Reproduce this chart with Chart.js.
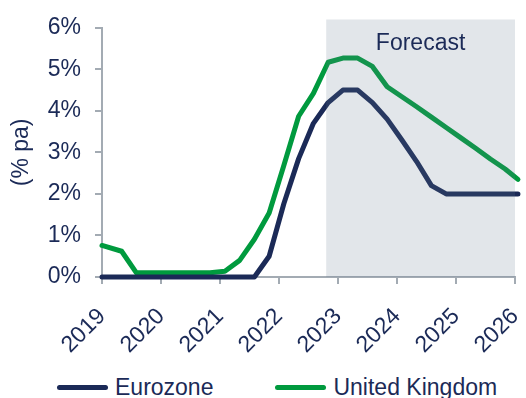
<!DOCTYPE html>
<html>
<head>
<meta charset="utf-8">
<script src="https://cdn.jsdelivr.net/npm/chart.js@4"></script>
<style>
  html, body { margin: 0; padding: 0; background: #fff; overflow: hidden; }
  #wrap { position: relative; width: 526px; height: 398px; }
  #chartBox { position: absolute; left: 0; top: 0; width: 526px; height: 360px; }
  #legend {
    position: absolute; left: 57px; top: 374px; height: 26px;
    display: flex; align-items: center; gap: 62px;
    font: 23px "Liberation Sans", Arial, sans-serif; line-height: 26px; color: #1B2A57;
  }
  #legend .item { display: flex; align-items: center; }
  #legend .swatch { width: 51px; height: 5px; border-radius: 2.5px; margin-right: 7px; }
</style>
</head>
<body>
<div id="wrap">
  <div id="chartBox"><canvas id="rateChart"></canvas></div>
  <div id="legend"></div>
</div>
<script>
// decimal years of each observation / forecast point
const dates = [2019.0, 2019.333, 2019.583, 2019.833,
  2020.083, 2020.333, 2020.583, 2020.833,
  2021.083, 2021.333, 2021.583, 2021.833,
  2022.083, 2022.333, 2022.583, 2022.833,
  2023.083, 2023.333, 2023.583, 2023.833,
  2024.083, 2024.333, 2024.583, 2024.833,
  2025.083, 2025.333, 2025.583, 2025.833, 2026.05];

// policy rates, % pa
const eurozone = [0, 0, 0, 0,
  0, 0, 0, 0,
  0, 0, 0, 0.5,
  1.77, 2.85, 3.7, 4.2,
  4.5, 4.5, 4.2, 3.8,
  3.3, 2.78, 2.2, 2.0,
  2.0, 2.0, 2.0, 2.0, 2.0];
const unitedKingdom = [0.76, 0.62, 0.1, 0.1,
  0.1, 0.1, 0.1, 0.1,
  0.14, 0.4, 0.91, 1.54,
  2.69, 3.87, 4.42, 5.17,
  5.27, 5.27, 5.07, 4.58,
  4.34, 4.1, 3.85, 3.6,
  3.35, 3.1, 2.84, 2.6, 2.35];

const seriesNames = ['Eurozone', 'United Kingdom'];
const tickYears = [2019, 2020, 2021, 2022, 2023, 2024, 2025, 2026];
const rateTicks = [0, 1, 2, 3, 4, 5, 6];
const forecastFrom = 2022.8;
const forecastTo = 2026;
const forecastTop = 6.2;
const forecastLabelLevel = 5.63;
const forecastLabel = 'Forecast';

const navy = '#1B2A57';
const green = '#009A3E';
const axisGrey = '#A3ABB3';
const fontFamily = '"Liberation Sans", Arial, sans-serif';

Chart.defaults.font.family = fontFamily;
Chart.defaults.font.size = 23;
Chart.defaults.color = navy;

function toPoints(values) {
  return values.map((v, i) => ({ x: dates[i], y: v }));
}

// grey forecast band goes on top of the lines with a low alpha, like the original
const forecastBand = {
  id: 'forecastBand',
  afterDatasetsDraw(chart) {
    const { ctx, scales: { x, y } } = chart;
    const left = x.getPixelForValue(forecastFrom);
    const right = x.getPixelForValue(forecastTo);
    const top = y.getPixelForValue(forecastTop);
    const bottom = y.getPixelForValue(0);
    ctx.save();
    ctx.fillStyle = 'rgba(100, 120, 145, 0.19)';
    ctx.fillRect(left, top, right - left, bottom - top);
    ctx.fillStyle = navy;
    ctx.font = '23px ' + fontFamily;
    ctx.textAlign = 'center';
    ctx.textBaseline = 'middle';
    ctx.fillText(forecastLabel, (left + right) / 2, y.getPixelForValue(forecastLabelLevel));
    ctx.restore();
  }
};

function lineSet(label, values, color) {
  return {
    label: label,
    data: toPoints(values),
    borderColor: color,
    backgroundColor: color,
    borderWidth: 5,
    borderCapStyle: 'round',
    borderJoinStyle: 'round',
    pointRadius: 0,
    tension: 0,
    clip: false
  };
}

const ctx = document.getElementById('rateChart').getContext('2d');
const rateChart = new Chart(ctx, {
  type: 'line',
  data: {
    datasets: [
      lineSet(seriesNames[0], eurozone, navy),
      lineSet(seriesNames[1], unitedKingdom, green)
    ]
  },
  options: {
    responsive: true,
    maintainAspectRatio: false,
    animation: false,
    layout: { padding: { top: 24, right: 11, left: 0, bottom: 0 } },
    plugins: {
      legend: { display: false },
      tooltip: { enabled: false }
    },
    scales: {
      x: {
        type: 'linear',
        min: 2019,
        max: 2026,
        afterBuildTicks: s => { s.ticks = tickYears.map(v => ({ value: v })); },
        afterFit: s => { s.height = 83; s.paddingRight = 0; s.paddingLeft = 0; },
        ticks: {
          callback: v => String(v),
          minRotation: 45,
          maxRotation: 45,
          autoSkip: false,
          padding: 19
        },
        grid: { drawOnChartArea: false, tickLength: 7, color: axisGrey, lineWidth: 2 },
        border: { color: axisGrey, width: 2 }
      },
      y: {
        min: 0,
        max: 6,
        afterBuildTicks: s => { s.ticks = rateTicks.map(v => ({ value: v })); },
        afterFit: s => { s.width = 102; },
        ticks: { callback: v => v + '%', padding: 14 },
        title: { display: true, text: '(% pa)', padding: { top: 8, bottom: 0 } },
        grid: { drawOnChartArea: false, tickLength: 7, color: axisGrey, lineWidth: 2 },
        border: { color: axisGrey, width: 2 }
      }
    }
  },
  plugins: [forecastBand]
});

// legend built from the chart's own datasets
const legendEl = document.getElementById('legend');
rateChart.data.datasets.forEach(ds => {
  const item = document.createElement('div');
  item.className = 'item';
  const swatch = document.createElement('span');
  swatch.className = 'swatch';
  swatch.style.background = ds.borderColor;
  const text = document.createElement('span');
  text.textContent = ds.label;
  item.appendChild(swatch);
  item.appendChild(text);
  legendEl.appendChild(item);
});
</script>
</body>
</html>
